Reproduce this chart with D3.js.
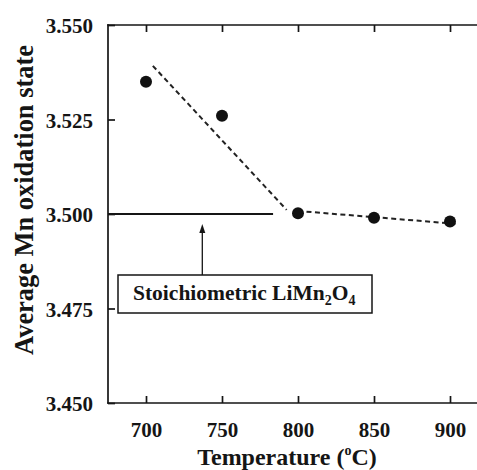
<!DOCTYPE html>
<html>
<head>
<meta charset="utf-8">
<script src="https://cdn.jsdelivr.net/npm/d3@7"></script>
<style>
  html, body { margin: 0; padding: 0; background: #fff; }
  svg { display: block; }
</style>
</head>
<body>
<svg id="chart" width="477" height="470"></svg>
<script>
// ---- data ----
const temperatures = [700, 750, 800, 850, 900];
const oxidationState = [3.535, 3.526, 3.5002, 3.4990, 3.4980];
const trendHighT = [704.5, 792.5];
const trendHighV = [3.5392, 3.5011];
const trendLowT = [800, 904];
const trendLowV = [3.5008, 3.4974];
const xTicks = [700, 750, 800, 850, 900];
const yTicks = [3.450, 3.475, 3.500, 3.525, 3.550];
const stoichValue = 3.500;
const stoichEndT = 783.6;
const xDomain = [675, 925];
const yDomain = [3.450, 3.550];

// ---- layout ----
const FONT = '"Liberation Serif"';
const svg = d3.select("#chart");
const mLeft = 108, mTop = 25, mRight = 488, mBottom = 403;
const x = d3.scaleLinear().domain(xDomain).range([mLeft, mRight]);
const y = d3.scaleLinear().domain(yDomain).range([mBottom, mTop]);
const ink = "#151515";

function txt(sel) {
  return sel.style("font-family", FONT).style("font-weight", "bold").attr("fill", ink);
}
function fitTo(sel, targetW, baseSize) {
  const w = sel.node().getComputedTextLength();
  if (w > 0) sel.style("font-size", (baseSize * targetW / w).toFixed(2) + "px");
}

// frame
[[mLeft, mBottom, mRight, mBottom], [mLeft, mTop, mRight, mTop], [mLeft, mTop, mLeft, mBottom]].forEach(c => {
  svg.append("line").attr("x1", c[0]).attr("y1", c[1]).attr("x2", c[2]).attr("y2", c[3])
    .attr("stroke", ink).attr("stroke-width", 1.7).attr("stroke-linecap", "square");
});

// axes via d3 axis (inward ticks)
const xAxis = svg.append("g").attr("transform", `translate(0,${mBottom})`)
  .call(d3.axisBottom(x).tickValues(xTicks).tickSizeInner(-7).tickSizeOuter(0).tickPadding(19).tickFormat(d3.format("d")));
const xAxisTop = svg.append("g").attr("transform", `translate(0,${mTop})`)
  .call(d3.axisTop(x).tickValues(xTicks).tickSizeInner(-7).tickSizeOuter(0).tickFormat(""));
const yAxis = svg.append("g").attr("transform", `translate(${mLeft},0)`)
  .call(d3.axisLeft(y).tickValues(yTicks).tickSizeInner(-7).tickSizeOuter(0).tickPadding(15).tickFormat(d3.format(".3f")));
[xAxis, xAxisTop, yAxis].forEach(g => {
  g.attr("font-family", null).attr("font-size", null);
  g.select(".domain").remove();
  g.selectAll(".tick line").attr("stroke", ink).attr("stroke-width", 1.7);
  txt(g.selectAll(".tick text")).style("font-size", "21px");
});
yAxis.selectAll(".tick text").attr("dy", "0.36em");
xAxis.selectAll(".tick text").attr("dy", "0.71em");

// axis titles
const yt = txt(svg.append("text"))
  .attr("transform", `translate(33,200) rotate(-90)`)
  .attr("text-anchor", "middle")
  .style("font-size", "24px")
  .text("Average Mn oxidation state");
fitTo(yt, 310, 24);

const xt = txt(svg.append("text"))
  .attr("x", 287).attr("y", 465)
  .attr("text-anchor", "middle")
  .style("font-size", "24px");
xt.append("tspan").text("Temperature (");
xt.append("tspan").attr("dy", -10).style("font-size", "14px").text("o");
xt.append("tspan").attr("dy", 10).text("C)");

// stoichiometric reference line
svg.append("line")
  .attr("x1", x(xDomain[0])).attr("x2", x(stoichEndT))
  .attr("y1", y(stoichValue)).attr("y2", y(stoichValue))
  .attr("stroke", ink).attr("stroke-width", 2.2);

// trend lines (dashed)
const line = d3.line().x(d => x(d[0])).y(d => y(d[1]));
[[trendHighT, trendHighV], [trendLowT, trendLowV]].forEach(([ts, vs]) => {
  svg.append("path")
    .attr("d", line(ts.map((t, i) => [t, vs[i]])))
    .attr("fill", "none").attr("stroke", "#222")
    .attr("stroke-width", 2).attr("stroke-dasharray", "5,3.5");
});

// data points
svg.selectAll("circle.pt").data(temperatures).join("circle")
  .attr("class", "pt")
  .attr("cx", d => x(d))
  .attr("cy", (d, i) => y(oxidationState[i]))
  .attr("r", 6).attr("fill", "#111");

// annotation box + arrow
const boxX0 = 118, boxX1 = 372, boxY0 = 275, boxY1 = 313;
svg.append("rect").attr("x", boxX0).attr("y", boxY0)
  .attr("width", boxX1 - boxX0).attr("height", boxY1 - boxY0)
  .attr("fill", "#fff").attr("stroke", ink).attr("stroke-width", 1.5);
const arrowX = 202.3;
svg.append("line").attr("x1", arrowX).attr("x2", arrowX)
  .attr("y1", boxY0).attr("y2", 232)
  .attr("stroke", ink).attr("stroke-width", 1.3);
svg.append("path")
  .attr("d", `M${arrowX},224 L${arrowX - 3},233 L${arrowX + 3},233 Z`)
  .attr("fill", ink);

const bt = txt(svg.append("text")).attr("x", 133).attr("y", 300).style("font-size", "21.5px");
bt.append("tspan").text("Stoichiometric LiMn");
bt.append("tspan").attr("dy", 5).style("font-size", "14px").text("2");
bt.append("tspan").attr("dy", -5).text("O");
bt.append("tspan").attr("dy", 5).style("font-size", "14px").text("4");
</script>
</body>
</html>
